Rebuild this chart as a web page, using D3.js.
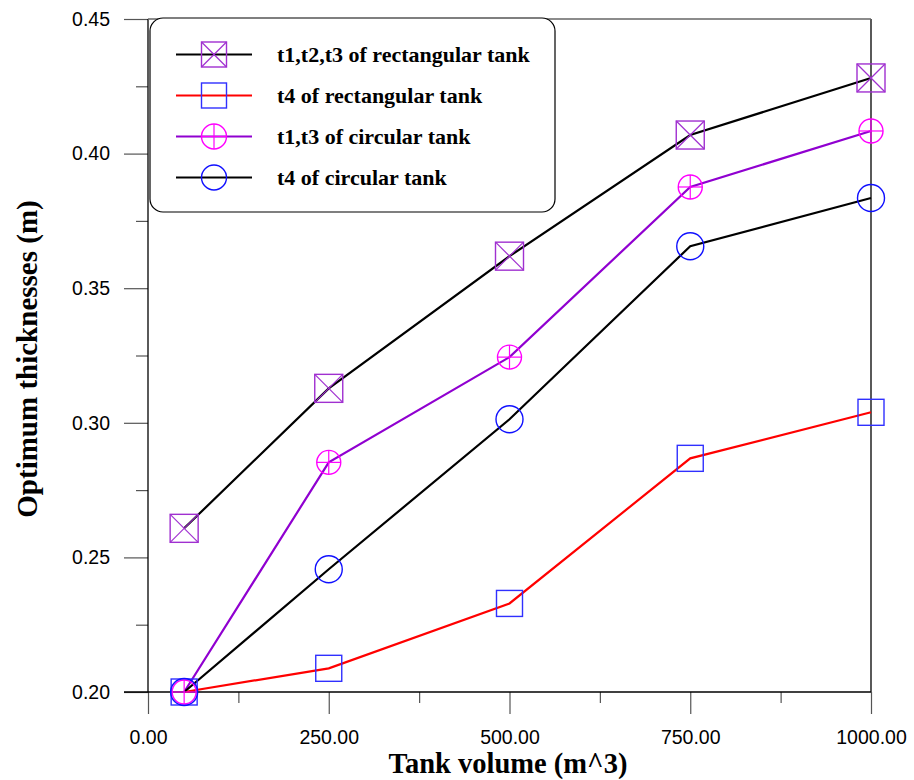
<!DOCTYPE html>
<html>
<head>
<meta charset="utf-8">
<script src="https://cdn.jsdelivr.net/npm/d3@7"></script>
<style>
  html, body { margin: 0; padding: 0; background: #fff; }
  svg { display: block; }
</style>
</head>
<body>
<svg id="chart" width="914" height="780"></svg>
<script>
// Tank volumes (m^3) and optimum wall thicknesses (m)
const volumes = [50, 250, 500, 750, 1000];
const rectT123 = [0.2608, 0.3128, 0.3619, 0.4069, 0.4281];
const rectT4   = [0.2000, 0.2088, 0.2329, 0.2868, 0.3039];
const circT13  = [0.2000, 0.2853, 0.3244, 0.3876, 0.4084];
const circT4   = [0.2000, 0.2456, 0.3013, 0.3656, 0.3835];

const xTicks = [0, 250, 500, 750, 1000];
const xMinorTicks = [125, 375, 625, 875];
const yTicks = [0.20, 0.25, 0.30, 0.35, 0.40, 0.45];
const yMinorTicks = [0.225, 0.275, 0.325, 0.375, 0.425];

const seriesNames = [
  "t1,t2,t3 of rectangular tank",
  "t4 of rectangular tank",
  "t1,t3 of circular tank",
  "t4 of circular tank"
];
const seriesValues = [rectT123, rectT4, circT13, circT4];
const lineColors = ["#000000", "#ff0000", "#9000d0", "#000000"];
const markerTypes = ["boxX", "box", "circlePlus", "circle"];
const markerColors = ["#a030d0", "#3030ff", "#ff00ff", "#1010ff"];

const plotLeft = 148, plotRight = 871, plotTop = 19, plotBottom = 692;

const svg = d3.select("#chart");
const x = d3.scaleLinear().domain([0, 1000]).range([plotLeft, plotRight]);
const y = d3.scaleLinear().domain([0.20, 0.45]).range([plotBottom, plotTop]);

// Axes
const axisColor = "#000";
const tickColor = "#555";
const labelFont = "Arial, 'Liberation Sans', sans-serif";
const titleFont = "'Liberation Serif', 'Times New Roman', serif";

const xAxis = d3.axisBottom(x).tickValues(xTicks).tickSize(22)
  .tickFormat(d3.format(".2f")).tickPadding(16);
const gx = svg.append("g").attr("transform", `translate(0,${plotBottom})`).call(xAxis);
gx.select(".domain").remove();
gx.selectAll(".tick line").attr("stroke", tickColor).attr("stroke-width", 1.2);
gx.selectAll(".tick text").attr("font-family", labelFont).attr("font-size", 19.5).attr("fill", "#000");

const xMinor = d3.axisBottom(x).tickValues(xMinorTicks).tickSize(11).tickFormat("");
const gxm = svg.append("g").attr("transform", `translate(0,${plotBottom})`).call(xMinor);
gxm.select(".domain").remove();
gxm.selectAll(".tick line").attr("stroke", tickColor).attr("stroke-width", 1.2);

const yAxis = d3.axisLeft(y).tickValues(yTicks).tickSize(24)
  .tickFormat(d3.format(".2f")).tickPadding(14);
const gy = svg.append("g").attr("transform", `translate(${plotLeft},0)`).call(yAxis);
gy.select(".domain").remove();
gy.selectAll(".tick line").attr("stroke", tickColor).attr("stroke-width", 1.2);
gy.selectAll(".tick text").attr("font-family", labelFont).attr("font-size", 19.5).attr("fill", "#000");

const yMinor = d3.axisLeft(y).tickValues(yMinorTicks).tickSize(12).tickFormat("");
const gym = svg.append("g").attr("transform", `translate(${plotLeft},0)`).call(yMinor);
gym.select(".domain").remove();
gym.selectAll(".tick line").attr("stroke", tickColor).attr("stroke-width", 1.2);

// Plot frame
svg.append("line").attr("x1", plotLeft).attr("x2", plotLeft).attr("y1", plotTop).attr("y2", plotBottom)
  .attr("stroke", axisColor).attr("stroke-width", 1.3);
svg.append("line").attr("x1", plotLeft - 24).attr("x2", plotRight).attr("y1", plotBottom).attr("y2", plotBottom)
  .attr("stroke", axisColor).attr("stroke-width", 1.3);
svg.append("line").attr("x1", plotRight).attr("x2", plotRight).attr("y1", plotTop).attr("y2", plotBottom)
  .attr("stroke", axisColor).attr("stroke-width", 1.3);
svg.append("line").attr("x1", plotLeft).attr("x2", plotRight).attr("y1", plotTop).attr("y2", plotTop)
  .attr("stroke", "#666").attr("stroke-width", 1.3);

// Marker drawing
function drawMarker(g, type, color, cx, cy, s) {
  const h = s / 2;
  if (type === "boxX" || type === "box") {
    g.append("rect").attr("x", cx - h).attr("y", cy - h).attr("width", s).attr("height", s)
      .attr("fill", "none").attr("stroke", color).attr("stroke-width", 1.4);
    if (type === "boxX") {
      g.append("line").attr("x1", cx - h).attr("y1", cy - h).attr("x2", cx + h).attr("y2", cy + h)
        .attr("stroke", color).attr("stroke-width", 1.2);
      g.append("line").attr("x1", cx - h).attr("y1", cy + h).attr("x2", cx + h).attr("y2", cy - h)
        .attr("stroke", color).attr("stroke-width", 1.2);
    }
  } else {
    g.append("circle").attr("cx", cx).attr("cy", cy).attr("r", h)
      .attr("fill", "none").attr("stroke", color).attr("stroke-width", 1.4);
    if (type === "circlePlus") {
      g.append("line").attr("x1", cx - h).attr("y1", cy).attr("x2", cx + h).attr("y2", cy)
        .attr("stroke", color).attr("stroke-width", 1.2);
      g.append("line").attr("x1", cx).attr("y1", cy - h).attr("x2", cx).attr("y2", cy + h)
        .attr("stroke", color).attr("stroke-width", 1.2);
    }
  }
}
const markerSizes = [28, 26, 24, 27];

// Series lines
const line = d3.line().x(d => x(d[0])).y(d => y(d[1]));
seriesValues.forEach((vals, i) => {
  const pts = volumes.map((v, j) => [v, vals[j]]);
  svg.append("path").datum(pts).attr("d", line)
    .attr("fill", "none").attr("stroke", lineColors[i]).attr("stroke-width", 2.2);
});
// Series markers
seriesValues.forEach((vals, i) => {
  const g = svg.append("g");
  volumes.forEach((v, j) => drawMarker(g, markerTypes[i], markerColors[i], x(v), y(vals[j]), markerSizes[i]));
});

// Legend
const lg = svg.append("g");
lg.append("rect").attr("x", 150).attr("y", 18).attr("width", 405).attr("height", 194)
  .attr("rx", 13).attr("ry", 13).attr("fill", "#fff").attr("stroke", "#000").attr("stroke-width", 1.2);
seriesNames.forEach((name, i) => {
  const ry = 54.5 + i * 41;
  lg.append("line").attr("x1", 176).attr("x2", 252).attr("y1", ry).attr("y2", ry)
    .attr("stroke", lineColors[i]).attr("stroke-width", 2.2);
  drawMarker(lg, markerTypes[i], markerColors[i], 214, ry, 25);
  lg.append("text").attr("x", 277).attr("y", ry + 7).text(name)
    .attr("font-family", titleFont)
    .attr("font-weight", "bold").attr("font-size", 22).attr("fill", "#000");
});

// Axis titles
svg.append("text").attr("x", 508).attr("y", 773).attr("text-anchor", "middle")
  .attr("font-family", titleFont)
  .attr("font-weight", "bold").attr("font-size", 28.5).text("Tank volume (m^3)");
svg.append("text").attr("transform", "translate(37,359) rotate(-90)").attr("text-anchor", "middle")
  .attr("font-family", titleFont)
  .attr("font-weight", "bold").attr("font-size", 29).text("Optimum thicknesses (m)");
</script>
</body>
</html>
